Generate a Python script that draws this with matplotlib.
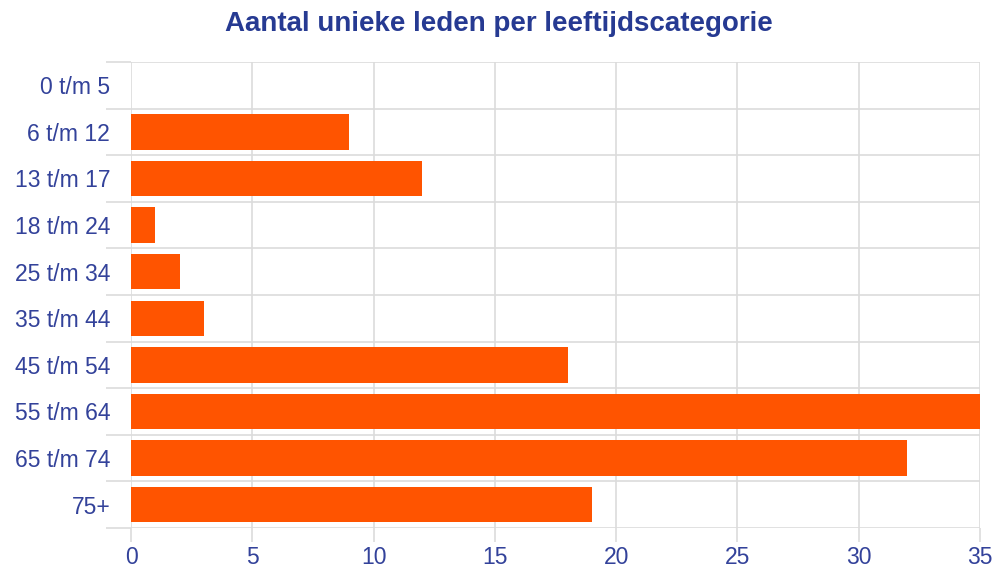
import numpy as np
import matplotlib.pyplot as plt

plt.rcParams['font.family'] = ['Liberation Sans', 'DejaVu Sans']

# data
categories = ['0 t/m 5', '6 t/m 12', '13 t/m 17', '18 t/m 24', '25 t/m 34',
              '35 t/m 44', '45 t/m 54', '55 t/m 64', '65 t/m 74', '75+']
leden = [0, 9, 12, 1, 2, 3, 18, 35, 32, 19]
x_ticks = [0, 5, 10, 15, 20, 25, 30, 35]

text_color = '#33429a'
bar_color = '#ff5400'
grid_color = '#dcdcdc'

fig = plt.figure(figsize=(9.97, 5.72), dpi=100)
ax = fig.add_axes([0.1314, 0.077, 0.8516, 0.8146])

y = np.arange(len(categories))
ax.barh(y, leden, height=0.76, color=bar_color, zorder=3)

ax.set_xlim(0, 35)
ax.set_ylim(len(categories) - 0.5, -0.5)

ax.set_xticks(x_ticks)
ax.set_yticks(y)
ax.set_yticklabels(categories)
ax.set_yticks(np.arange(len(categories) + 1) - 0.5, minor=True)

ax.grid(True, axis='x', which='major', color=grid_color, lw=1.2, zorder=0)
ax.grid(True, axis='y', which='minor', color=grid_color, lw=1.2, zorder=0)

ax.tick_params(axis='x', length=10, color=grid_color, width=1.2,
               labelsize=16.5, labelcolor=text_color, pad=3)
ax.tick_params(axis='y', which='major', length=0, labelsize=16.5,
               labelcolor=text_color, pad=15)
ax.tick_params(axis='y', which='minor', length=18, color=grid_color, width=1.2)

for s in ax.spines.values():
    s.set_visible(False)

fig.suptitle('Aantal unieke leden per leeftijdscategorie', fontsize=20,
             fontweight='bold', color='#263a92', x=0.5, y=0.98, va='top')

fig.savefig('out.png', dpi=100)
